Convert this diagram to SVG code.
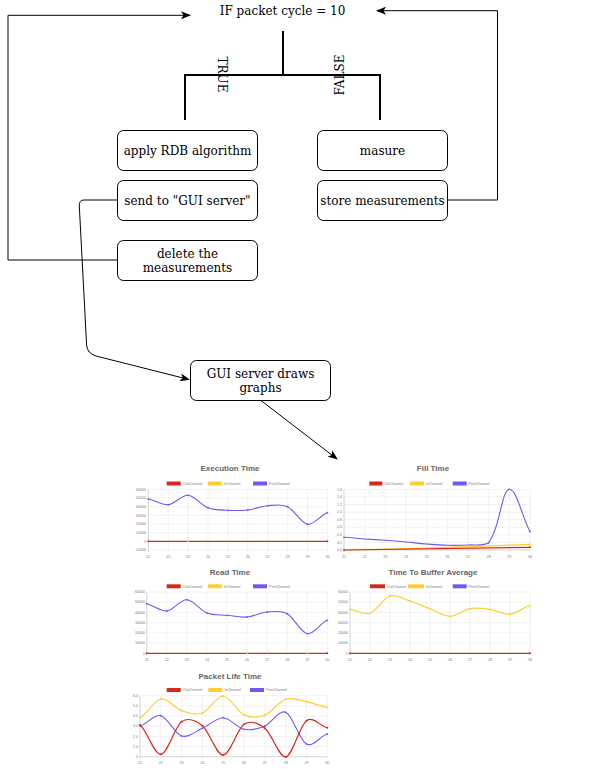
<svg xmlns="http://www.w3.org/2000/svg" width="598" height="769" viewBox="0 0 598 769">
<defs>
<marker id="arr" markerWidth="10" markerHeight="8" refX="9" refY="4" orient="auto" markerUnits="userSpaceOnUse">
<path d="M0,0 L10,4 L0,8 L2.5,4 z" fill="#000"/>
</marker>
</defs>
<style>
.box{fill:#fff;stroke:#000;stroke-width:1}
.t{font-family:"DejaVu Serif",serif;font-size:12px;fill:#000;text-anchor:middle}
.con{fill:none;stroke:#000;stroke-width:1}
.thick{fill:none;stroke:#000;stroke-width:2}
.ct{font-family:"Liberation Sans",Arial,sans-serif;font-size:8px;font-weight:bold;fill:#666;text-anchor:middle}
.lg{font-family:"Liberation Sans",Arial,sans-serif;font-size:3.6px;fill:#777}
.yl{font-family:"Liberation Sans",Arial,sans-serif;font-size:3.6px;fill:#777;text-anchor:end}
.xl{font-family:"Liberation Sans",Arial,sans-serif;font-size:3.6px;fill:#777;text-anchor:middle}
.grid{stroke:#e8e8e8;stroke-width:0.6;fill:none}
.axis{stroke:#bbb;stroke-width:0.6;fill:none}
.r{stroke:#d8281b;stroke-width:1.2;fill:none}
.y{stroke:#fccf31;stroke-width:1.2;fill:none}
.b{stroke:#7356f5;stroke-width:1.1;fill:none}
.rf{fill:#d8281b}
.yf{fill:#fccf31}
.bf{fill:#7356f5}
</style>
<rect width="598" height="769" fill="#fff"/>

<g id="connectors">
<path class="thick" d="M283,31 L283,75 M185,120 L185,75 L380,75 L380,120"/>
<path class="con" d="M117,260 L8,260 L8,15.3 L190,15.3" marker-end="url(#arr)"/>
<path class="con" d="M447,200 L497.5,200 L497.5,10.7 L377,10.7" marker-end="url(#arr)"/>
<path class="con" d="M117,200 L84,200 Q79,200 79.3,206 L86.6,345 Q87.2,353.5 96,356 L189,379.5" marker-end="url(#arr)"/>
<path class="con" d="M261,400.5 L337,459" marker-end="url(#arr)"/>
<text class="t" transform="translate(222,74.5) rotate(90)" y="4">TRUE</text>
<text class="t" transform="translate(340,75) rotate(-90)" y="4">FALSE</text>
</g>

<g id="if-node"><text class="t" x="282.5" y="15">IF packet cycle = 10</text></g>
<g id="apply-rdb"><rect class="box" x="117.5" y="130.5" width="140" height="40" rx="6"/><text class="t" x="187.5" y="155">apply RDB algorithm</text></g>
<g id="send-gui"><rect class="box" x="117.5" y="180.5" width="140" height="40" rx="6"/><text class="t" x="187.5" y="205">send to "GUI server"</text></g>
<g id="delete"><rect class="box" x="117.5" y="240.5" width="140" height="40" rx="6"/><text class="t" x="187.5" y="258">delete the</text><text class="t" x="187.5" y="272">measurements</text></g>
<g id="masure"><rect class="box" x="317.5" y="130.5" width="130" height="40" rx="6"/><text class="t" x="382.5" y="155">masure</text></g>
<g id="store"><rect class="box" x="317.5" y="180.5" width="130" height="40" rx="6"/><text class="t" x="382.5" y="205">store measurements</text></g>
<g id="gui-draws"><rect class="box" x="190.5" y="360.5" width="140" height="40" rx="6"/><text class="t" x="260.5" y="378">GUI server draws</text><text class="t" x="260.5" y="392">graphs</text></g>

<g id="chart-execution">
<text class="ct" x="230" y="471">Execution Time</text>
<rect class="rf" x="166.7" y="481.5" width="14" height="4"/><text class="lg" x="183" y="484.8">OutChannel</text>
<rect class="yf" x="207.7" y="481.5" width="14" height="4"/><text class="lg" x="224" y="484.8">InChannel</text>
<rect class="bf" x="253" y="481.5" width="14" height="4"/><text class="lg" x="269" y="484.8">PrintChannel</text>
<path class="grid" d="M148.3,489.3H327.4M148.3,498H327.4M148.3,506.7H327.4M148.3,515.3H327.4M148.3,524H327.4M148.3,532.7H327.4M148.3,550H327.4M168.2,489.3V552M188.1,489.3V552M208,489.3V552M227.9,489.3V552M247.8,489.3V552M267.7,489.3V552M287.6,489.3V552M307.5,489.3V552M327.4,489.3V552"/>
<path class="axis" d="M148.3,489.3V552"/>
<g class="yl"><text x="146" y="490.5">60000</text><text x="146" y="499.2">50000</text><text x="146" y="507.9">40000</text><text x="146" y="516.5">30000</text><text x="146" y="525.2">20000</text><text x="146" y="533.9">10000</text><text x="146" y="542.5">0</text><text x="146" y="551.2">-10000</text></g>
<g class="xl"><text x="148.3" y="558">21</text><text x="168.2" y="558">22</text><text x="188.1" y="558">23</text><text x="208" y="558">24</text><text x="227.9" y="558">25</text><text x="247.8" y="558">26</text><text x="267.7" y="558">27</text><text x="287.6" y="558">28</text><text x="307.5" y="558">29</text><text x="327.4" y="558">30</text></g>
<path class="r" d="M148.3,541.3H327.4"/>
<circle class="rf" cx="148.3" cy="541.3" r="1"/><circle class="rf" cx="327.4" cy="541.3" r="1"/><circle class="yf" cx="188.1" cy="541.3" r="0.9"/>
<path class="b" d="M148.3,499 C154.9,499.95 161.6,505.32 168.2,504.7 C174.8,504.08 181.5,494.8 188.1,495.3 C194.7,495.8 201.4,505.2 208,507.7 C214.6,510.2 221.3,509.92 227.9,510.3 C234.5,510.68 241.2,510.77 247.8,510 C254.4,509.23 261.1,506.25 267.7,505.7 C274.3,505.15 281,503.6 287.6,506.7 C294.2,509.8 300.9,523.3 307.5,524.3 C314.1,525.3 320.8,514.63 327.4,512.7"/>
<g class="bf"><circle cx="148.3" cy="499" r="0.9"/><circle cx="168.2" cy="504.7" r="0.9"/><circle cx="188.1" cy="495.3" r="0.9"/><circle cx="208" cy="507.7" r="0.9"/><circle cx="227.9" cy="510.3" r="0.9"/><circle cx="247.8" cy="510" r="0.9"/><circle cx="267.7" cy="505.7" r="0.9"/><circle cx="287.6" cy="506.7" r="0.9"/><circle cx="307.5" cy="524.3" r="0.9"/><circle cx="327.4" cy="512.7" r="0.9"/></g>
</g>

<g id="chart-fill">
<text class="ct" x="433" y="471">Fill Time</text>
<rect class="rf" x="369.3" y="481.5" width="13" height="4"/><text class="lg" x="384" y="484.8">OutChannel</text>
<rect class="yf" x="410" y="481.5" width="14" height="4"/><text class="lg" x="426" y="484.8">InChannel</text>
<rect class="bf" x="452.7" y="481.5" width="14" height="4"/><text class="lg" x="468.5" y="484.8">PrintChannel</text>
<path class="grid" d="M344,489.3H530M344,496.9H530M344,504.5H530M344,512.1H530M344,519.7H530M344,527.2H530M344,534.8H530M344,542.4H530M364.7,489.3V552M385.3,489.3V552M406,489.3V552M426.7,489.3V552M447.3,489.3V552M468,489.3V552M488.7,489.3V552M509.3,489.3V552M530,489.3V552"/>
<path class="axis" d="M344,489.3V552M344,550H530"/>
<g class="yl"><text x="342" y="490.5">1.6</text><text x="342" y="498.1">1.4</text><text x="342" y="505.7">1.2</text><text x="342" y="513.3">1.0</text><text x="342" y="520.9">0.8</text><text x="342" y="528.4">0.6</text><text x="342" y="536">0.4</text><text x="342" y="543.6">0.2</text><text x="342" y="551.2">0.0</text></g>
<g class="xl"><text x="344" y="558">21</text><text x="364.7" y="558">22</text><text x="385.3" y="558">23</text><text x="406" y="558">24</text><text x="426.7" y="558">25</text><text x="447.3" y="558">26</text><text x="468" y="558">27</text><text x="488.7" y="558">28</text><text x="509.3" y="558">29</text><text x="530" y="558">30</text></g>
<path class="y" d="M344,550 C400,549 460,547 530,544.3"/>
<path class="r" d="M344,550 C400,549.5 460,548.5 530,547.3"/>
<circle class="rf" cx="344" cy="550" r="1"/><circle class="rf" cx="530" cy="547.3" r="1"/><circle class="yf" cx="530" cy="544.3" r="0.9"/>
<path class="b" d="M344,537.3 C350.9,537.58 357.8,538.5 364.7,539 C371.6,539.5 378.4,539.8 385.3,540.3 C392.2,540.8 399.1,541.38 406,542 C412.9,542.62 419.8,543.45 426.7,544 C433.6,544.55 440.4,545.13 447.3,545.3 C454.2,545.47 461.1,545.43 468,545 C474.9,544.57 484.5,546 488.7,542.7 C500.9,526.2 500.7,491.7 509.3,489.3 C516.7,489.3 521.3,514.7 530,531.7"/>
<g class="bf"><circle cx="344" cy="537.3" r="0.9"/><circle cx="488.7" cy="542.7" r="0.9"/><circle cx="509.3" cy="489.3" r="0.9"/><circle cx="530" cy="531.7" r="0.9"/></g>
</g>

<g id="chart-read">
<text class="ct" x="230" y="575">Read Time</text>
<rect class="rf" x="166.7" y="584.3" width="14" height="4"/><text class="lg" x="183" y="587.6">OutChannel</text>
<rect class="yf" x="207.7" y="584.3" width="14" height="4"/><text class="lg" x="224" y="587.6">InChannel</text>
<rect class="bf" x="253" y="584.3" width="14" height="4"/><text class="lg" x="269" y="587.6">PrintChannel</text>
<path class="grid" d="M146.7,592H327.3M146.7,602.2H327.3M146.7,612.4H327.3M146.7,622.7H327.3M146.7,632.9H327.3M146.7,643.1H327.3M166.8,592V655M186.8,592V655M206.9,592V655M227,592V655M247.1,592V655M267.1,592V655M287.2,592V655M307.3,592V655M327.3,592V655"/>
<path class="axis" d="M146.7,592V655"/>
<g class="yl"><text x="145" y="593.2">60000</text><text x="145" y="603.4">50000</text><text x="145" y="613.6">40000</text><text x="145" y="623.9">30000</text><text x="145" y="634.1">20000</text><text x="145" y="644.3">10000</text><text x="145" y="654.5">0</text></g>
<g class="xl"><text x="146.7" y="660.5">21</text><text x="166.8" y="660.5">22</text><text x="186.8" y="660.5">23</text><text x="206.9" y="660.5">24</text><text x="227" y="660.5">25</text><text x="247.1" y="660.5">26</text><text x="267.1" y="660.5">27</text><text x="287.2" y="660.5">28</text><text x="307.3" y="660.5">29</text><text x="327.3" y="660.5">30</text></g>
<path class="r" d="M146.7,653.3H327.3"/>
<circle class="rf" cx="146.7" cy="653.3" r="1"/><circle class="rf" cx="327.3" cy="653.3" r="1"/>
<g class="yf"><circle cx="247.1" cy="653.3" r="0.9"/><circle cx="267.1" cy="652.5" r="0.9"/><circle cx="307.3" cy="653.3" r="0.9"/></g>
<path class="b" d="M146.7,603.7 C153.4,604.92 160.1,611.67 166.8,611 C173.5,610.33 180.1,599.37 186.8,599.7 C193.5,600.03 200.2,610.4 206.9,613 C213.6,615.6 220.3,614.63 227,615.3 C233.7,615.97 240.4,617.55 247.1,617 C253.8,616.45 260.4,612.55 267.1,612 C273.8,611.45 280.5,610.08 287.2,613.7 C293.9,617.32 300.6,632.6 307.3,633.7 C314,634.8 320.6,622.53 327.3,620.3"/>
<g class="bf"><circle cx="146.7" cy="603.7" r="0.9"/><circle cx="166.8" cy="611" r="0.9"/><circle cx="186.8" cy="599.7" r="0.9"/><circle cx="206.9" cy="613" r="0.9"/><circle cx="227" cy="615.3" r="0.9"/><circle cx="247.1" cy="617" r="0.9"/><circle cx="267.1" cy="612" r="0.9"/><circle cx="287.2" cy="613.7" r="0.9"/><circle cx="307.3" cy="633.7" r="0.9"/><circle cx="327.3" cy="620.3" r="0.9"/></g>
</g>

<g id="chart-buffer">
<text class="ct" x="433" y="575">Time To Buffer Average</text>
<rect class="rf" x="370" y="584.3" width="15" height="4"/><text class="lg" x="387" y="587.6">OutChannel</text>
<rect class="yf" x="408" y="584.3" width="16" height="4"/><text class="lg" x="426" y="587.6">InChannel</text>
<rect class="bf" x="452.7" y="584.3" width="14" height="4"/><text class="lg" x="468.5" y="587.6">PrintChannel</text>
<path class="grid" d="M350,592H530M350,602.2H530M350,612.4H530M350,622.7H530M350,632.9H530M350,643.1H530M370,592V655M390,592V655M410,592V655M430,592V655M450,592V655M470,592V655M490,592V655M510,592V655M530,592V655"/>
<path class="axis" d="M350,592V655"/>
<g class="yl"><text x="348" y="593.2">60000</text><text x="348" y="603.4">50000</text><text x="348" y="613.6">40000</text><text x="348" y="623.9">30000</text><text x="348" y="634.1">20000</text><text x="348" y="644.3">10000</text><text x="348" y="654.5">0</text></g>
<g class="xl"><text x="350" y="660.5">21</text><text x="370" y="660.5">22</text><text x="390" y="660.5">23</text><text x="410" y="660.5">24</text><text x="430" y="660.5">25</text><text x="450" y="660.5">26</text><text x="470" y="660.5">27</text><text x="490" y="660.5">28</text><text x="510" y="660.5">29</text><text x="530" y="660.5">30</text></g>
<path class="r" d="M350,653.3H530"/>
<circle class="rf" cx="350" cy="653.3" r="1"/><circle class="rf" cx="530" cy="653.3" r="1"/>
<path class="y" d="M350,609.3 C356.7,609.97 363.3,615.52 370,613.3 C376.7,611.08 383.3,598.05 390,596 C396.7,593.95 403.3,598.88 410,601 C416.7,603.12 423.3,606.15 430,608.7 C436.7,611.25 443.3,616.3 450,616.3 C456.7,616.3 463.3,609.87 470,608.7 C476.7,607.53 483.3,608.37 490,609.3 C496.7,610.23 503.3,614.9 510,614.3 C516.7,613.7 523.3,607.13 530,605.7"/>
<g class="yf"><circle cx="350" cy="609.3" r="0.9"/><circle cx="370" cy="613.3" r="0.9"/><circle cx="390" cy="596" r="0.9"/><circle cx="410" cy="601" r="0.9"/><circle cx="430" cy="608.7" r="0.9"/><circle cx="450" cy="616.3" r="0.9"/><circle cx="470" cy="608.7" r="0.9"/><circle cx="490" cy="609.3" r="0.9"/><circle cx="510" cy="614.3" r="0.9"/><circle cx="530" cy="605.7" r="0.9"/></g>
</g>

<g id="chart-packet">
<text class="ct" x="230" y="679">Packet Life Time</text>
<rect class="rf" x="166.7" y="688" width="14" height="4"/><text class="lg" x="183" y="691.3">OutChannel</text>
<rect class="yf" x="208.3" y="688" width="14" height="4"/><text class="lg" x="224.5" y="691.3">InChannel</text>
<rect class="bf" x="250" y="688" width="14" height="4"/><text class="lg" x="266" y="691.3">PrintChannel</text>
<path class="grid" d="M140,695.7H327.3M140,705.9H327.3M140,716H327.3M140,726.2H327.3M140,736.4H327.3M140,746.5H327.3M160.8,695.7V758.5M181.6,695.7V758.5M202.4,695.7V758.5M223.2,695.7V758.5M244.1,695.7V758.5M264.9,695.7V758.5M285.7,695.7V758.5M306.5,695.7V758.5M327.3,695.7V758.5"/>
<path class="axis" d="M140,695.7V758.5M140,756.7H327.3"/>
<g class="yl"><text x="138" y="696.9">6.0</text><text x="138" y="707.1">5.0</text><text x="138" y="717.2">4.0</text><text x="138" y="727.4">3.0</text><text x="138" y="737.6">2.0</text><text x="138" y="747.7">1.0</text><text x="138" y="757.9">0</text></g>
<g class="xl"><text x="140" y="763.5">21</text><text x="160.8" y="763.5">22</text><text x="181.6" y="763.5">23</text><text x="202.4" y="763.5">24</text><text x="223.2" y="763.5">25</text><text x="244.1" y="763.5">26</text><text x="264.9" y="763.5">27</text><text x="285.7" y="763.5">28</text><text x="306.5" y="763.5">29</text><text x="327.3" y="763.5">30</text></g>
<path class="y" d="M140,717.7 C146.9,714.58 153.9,700.17 160.8,699 C167.7,697.83 174.7,708.37 181.6,710.7 C188.5,713.03 195.5,715.45 202.4,713 C209.3,710.55 216.3,695.67 223.2,696 C230.1,696.33 237.2,711.83 244.1,715 C251,718.17 258,717.62 264.9,715 C271.8,712.38 278.8,701.52 285.7,699.3 C292.6,697.08 299.6,700.37 306.5,701.7 C313.4,703.03 320.4,706.37 327.3,707.3"/>
<path class="b" d="M140,726 C146.9,724.28 153.9,714.03 160.8,715.7 C167.7,717.37 174.7,733.9 181.6,736 C188.5,738.1 195.5,731.35 202.4,728.3 C209.3,725.25 216.3,717.53 223.2,717.7 C230.1,717.87 237.2,727.92 244.1,729.3 C251,730.68 258,728.83 264.9,726 C271.8,723.17 278.8,709.3 285.7,712.3 C292.6,715.3 299.6,740.38 306.5,744 C313.4,747.62 320.4,735.67 327.3,734"/>
<path class="r" d="M140,725 C146.9,729.88 153.9,754.85 160.8,754.3 C167.7,753.75 174.7,726.47 181.6,721.7 C188.5,716.93 195.5,720.15 202.4,725.7 C209.3,731.25 216.3,755.23 223.2,755 C230.1,754.77 237.2,728.75 244.1,724.3 C251,719.85 258,722.85 264.9,728.3 C271.8,733.75 278.8,757 285.7,757 C292.6,755.73 299.6,725.58 306.5,720.7 C313.4,715.82 320.4,726.53 327.3,727.7"/>
<g class="yf"><circle cx="140" cy="717.7" r="0.9"/><circle cx="160.8" cy="699" r="0.9"/><circle cx="181.6" cy="710.7" r="0.9"/><circle cx="202.4" cy="713" r="0.9"/><circle cx="223.2" cy="696" r="0.9"/><circle cx="244.1" cy="715" r="0.9"/><circle cx="264.9" cy="715" r="0.9"/><circle cx="285.7" cy="699.3" r="0.9"/><circle cx="306.5" cy="701.7" r="0.9"/><circle cx="327.3" cy="707.3" r="0.9"/></g>
<g class="bf"><circle cx="140" cy="726" r="0.9"/><circle cx="160.8" cy="715.7" r="0.9"/><circle cx="181.6" cy="736" r="0.9"/><circle cx="202.4" cy="728.3" r="0.9"/><circle cx="223.2" cy="717.7" r="0.9"/><circle cx="244.1" cy="729.3" r="0.9"/><circle cx="264.9" cy="726" r="0.9"/><circle cx="285.7" cy="712.3" r="0.9"/><circle cx="306.5" cy="744" r="0.9"/><circle cx="327.3" cy="734" r="0.9"/></g>
<g class="rf"><circle cx="140" cy="725" r="1"/><circle cx="160.8" cy="754.3" r="1"/><circle cx="181.6" cy="721.7" r="1"/><circle cx="202.4" cy="725.7" r="1"/><circle cx="223.2" cy="755" r="1"/><circle cx="244.1" cy="724.3" r="1"/><circle cx="264.9" cy="728.3" r="1"/><circle cx="285.7" cy="757" r="1"/><circle cx="306.5" cy="720.7" r="1"/><circle cx="327.3" cy="727.7" r="1"/></g>
</g>
</svg>
